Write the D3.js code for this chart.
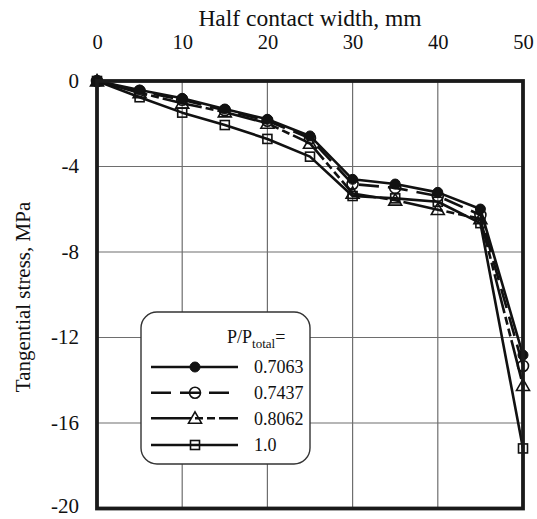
<!DOCTYPE html>
<html>
<head>
<meta charset="utf-8">
<script src="https://cdn.jsdelivr.net/npm/d3@7"></script>
<style>
  html, body { margin: 0; padding: 0; background: #fff; }
</style>
</head>
<body>
<svg id="chart" width="537" height="519"></svg>
<script>
// Half contact width (mm) at which stress was evaluated
const halfWidth = [0, 5, 10, 15, 20, 25, 30, 35, 40, 45, 50];

// Tangential stress (MPa) for each load ratio P/Ptotal
const ratioLabels = ["0.7063", "0.7437", "0.8062", "1.0"];
const stress07063 = [0, -0.42, -0.81, -1.31, -1.79, -2.57, -4.60, -4.82, -5.21, -5.99, -12.82];
const stress07437 = [0, -0.47, -0.88, -1.37, -1.86, -2.68, -4.82, -5.00, -5.38, -6.27, -13.33];
const stress08062 = [0, -0.55, -1.04, -1.45, -1.98, -2.92, -5.26, -5.58, -6.02, -6.45, -14.25];
const stress10 = [0, -0.76, -1.48, -2.06, -2.71, -3.54, -5.38, -5.49, -5.65, -6.65, -17.19];

const xTicks = [0, 10, 20, 30, 40, 50];
const yTicks = [0, -4, -8, -12, -16, -20];

const FONT = "'Times New Roman', 'Liberation Serif', 'DejaVu Serif', serif";

const svg = d3.select("#chart").attr("font-family", FONT);

const x = d3.scaleLinear().domain([0, 50]).range([97, 523]);
const y = d3.scaleLinear().domain([-20, 0]).range([508.5, 81]);

// plain hyphen for negative tick values
const fmt = d => String(d);

// grid
const grid = svg.append("g");
grid.selectAll(".gx").data(xTicks.slice(1, -1)).join("line")
  .attr("x1", d => x(d)).attr("x2", d => x(d))
  .attr("y1", y(0)).attr("y2", y(-20))
  .attr("stroke", "#6e6e6e").attr("stroke-width", 1.2);
grid.selectAll(".gy").data(yTicks.slice(1, -1)).join("line")
  .attr("x1", x(0)).attr("x2", x(50))
  .attr("y1", d => y(d)).attr("y2", d => y(d))
  .attr("stroke", "#6e6e6e").attr("stroke-width", 1.2);

// top axis labels
const xAxis = d3.axisTop(x).tickValues(xTicks).tickSize(0).tickPadding(0).tickFormat(fmt);
const gx = svg.append("g").attr("transform", `translate(0,49)`).call(xAxis);
gx.select(".domain").remove();
gx.attr("font-family", FONT);
gx.selectAll("text").attr("font-size", 20.5).attr("fill", "#111").attr("dy", 0);

// left axis labels
const yAxis = d3.axisLeft(y).tickValues(yTicks).tickSize(0).tickPadding(0).tickFormat(fmt);
const gy = svg.append("g").attr("transform", `translate(79,0)`).call(yAxis);
gy.select(".domain").remove();
gy.attr("font-family", FONT);
gy.selectAll("text").attr("font-size", 21).attr("fill", "#111").attr("dy", "0.3em");
gy.selectAll(".tick").filter(d => d === -20).select("text").attr("dy", "0.18em");

// axis titles
svg.append("text").attr("x", 310).attr("y", 26).attr("text-anchor", "middle")
  .attr("font-size", 23.5).attr("fill", "#111").text("Half contact width, mm");
svg.append("text").attr("transform", "translate(30,297) rotate(-90)")
  .attr("text-anchor", "middle").attr("font-size", 21).attr("fill", "#111")
  .text("Tangential stress, MPa");

// series definitions
const series = [
  { label: ratioLabels[3], values: stress10, dash: null, marker: "square" },
  { label: ratioLabels[2], values: stress08062, dash: "40,4,8,4,8,4", marker: "triangle" },
  { label: ratioLabels[1], values: stress07437, dash: "20,9", marker: "open" },
  { label: ratioLabels[0], values: stress07063, dash: null, marker: "filled" }
];

const line = d3.line().x((d, i) => x(halfWidth[i])).y(d => y(d));

function drawMarker(g, kind, cx, cy) {
  if (kind === "filled") {
    g.append("circle").attr("cx", cx).attr("cy", cy).attr("r", 5)
      .attr("fill", "#111").attr("stroke", "#111").attr("stroke-width", 1);
  } else if (kind === "open") {
    g.append("circle").attr("cx", cx).attr("cy", cy).attr("r", 5.5)
      .attr("fill", "none").attr("stroke", "#111").attr("stroke-width", 1.6);
  } else if (kind === "triangle") {
    const s = 6.5;
    g.append("path")
      .attr("d", `M${cx},${cy - s}L${cx + s},${cy + s * 0.75}L${cx - s},${cy + s * 0.75}Z`)
      .attr("fill", "none").attr("stroke", "#111").attr("stroke-width", 1.6);
  } else {
    const s = 4.5;
    g.append("rect").attr("x", cx - s).attr("y", cy - s).attr("width", 2 * s).attr("height", 2 * s)
      .attr("fill", "none").attr("stroke", "#111").attr("stroke-width", 1.6);
  }
}

const plot = svg.append("g");
series.forEach(s => {
  plot.append("path").datum(s.values)
    .attr("d", line).attr("fill", "none").attr("stroke", "#111")
    .attr("stroke-width", 2.6).attr("stroke-linejoin", "round")
    .attr("stroke-dasharray", s.dash);
});
series.forEach(s => {
  const g = plot.append("g");
  s.values.forEach((v, i) => drawMarker(g, s.marker, x(halfWidth[i]), y(v)));
});

// frame
svg.append("rect").attr("x", x(0)).attr("y", y(0))
  .attr("width", x(50) - x(0)).attr("height", y(-20) - y(0))
  .attr("fill", "none").attr("stroke", "#1a1a1a").attr("stroke-width", 3.8);

// legend
const lg = svg.append("g");
lg.append("rect").attr("x", 141).attr("y", 312).attr("width", 169).attr("height", 152)
  .attr("rx", 16).attr("ry", 16).attr("fill", "#fff").attr("stroke", "#333").attr("stroke-width", 1.4);
const head = lg.append("text").attr("x", 227).attr("y", 343).attr("font-size", 18).attr("fill", "#111");
head.append("tspan").text("P/P");
head.append("tspan").attr("font-size", 13).attr("dy", 5).text("total");
head.append("tspan").attr("dy", -5).text("=");

const legendRows = [
  { s: series[3], y: 367 },
  { s: series[2], y: 392.7 },
  { s: series[1], y: 418.3 },
  { s: series[0], y: 445 }
];
legendRows.forEach(r => {
  lg.append("line").attr("x1", 151).attr("x2", 238).attr("y1", r.y).attr("y2", r.y)
    .attr("stroke", "#111").attr("stroke-width", 2.6)
    .attr("stroke-dasharray", r.s.dash);
  drawMarker(lg, r.s.marker, 195, r.y);
  lg.append("text").attr("x", 254).attr("y", r.y).attr("dy", "0.35em")
    .attr("font-size", 18).attr("fill", "#111").text(r.s.label);
});
</script>
</body>
</html>
